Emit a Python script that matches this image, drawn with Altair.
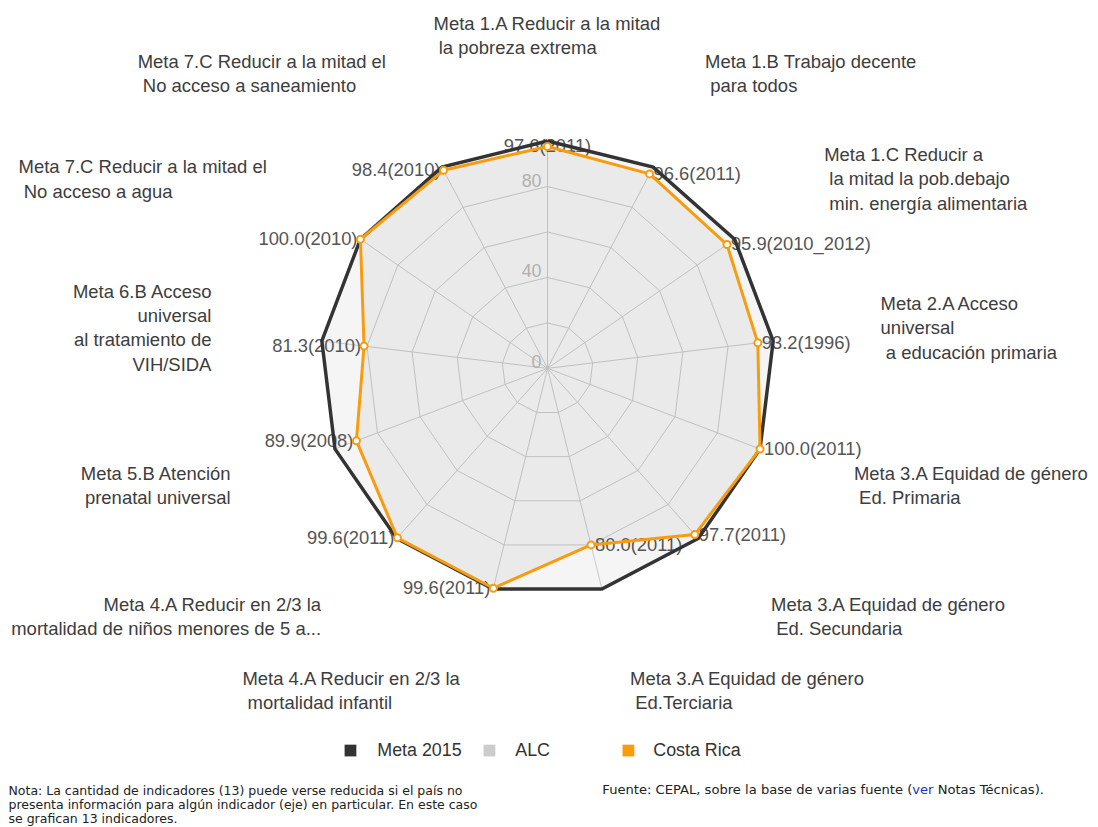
import math
import altair as alt
import pandas as pd

# ---------------- data ----------------
categories = [
    ["Meta 1.A Reducir a la mitad", " la pobreza extrema"],
    ["Meta 1.B Trabajo decente", " para todos"],
    ["Meta 1.C Reducir a", " la mitad la pob.debajo", " min. energía alimentaria"],
    ["Meta 2.A Acceso", "universal", " a educación primaria"],
    ["Meta 3.A Equidad de género", " Ed. Primaria"],
    ["Meta 3.A Equidad de género", " Ed. Secundaria"],
    ["Meta 3.A Equidad de género", " Ed.Terciaria"],
    ["Meta 4.A Reducir en 2/3 la", " mortalidad infantil"],
    ["Meta 4.A Reducir en 2/3 la", "mortalidad de niños menores de 5 a..."],
    ["Meta 5.B Atención", "prenatal universal"],
    ["Meta 6.B Acceso", "universal", "al tratamiento de", "VIH/SIDA"],
    ["Meta 7.C Reducir a la mitad el", " No acceso a agua"],
    ["Meta 7.C Reducir a la mitad el", " No acceso a saneamiento"],
]
meta_values = [100, 100, 100, 100, 100, 100, 100, 100, 100, 100, 100, 100, 100]
cr_values = [97.6, 96.6, 95.9, 93.2, 100.0, 97.7, 80.0, 99.6, 99.6, 89.9, 81.3, 100.0, 98.4]
cr_years = ["2011", "2011", "2010_2012", "1996", "2011", "2011", "2011",
            "2011", "2011", "2008", "2010", "2010", "2010"]
grid_levels = [20, 40, 60, 80, 100]
grid_tick_labels = [0, 40, 80]
legend_names = ["Meta 2015", "ALC", "Costa Rica"]
nota_lines = [
    "Nota: La cantidad de indicadores (13) puede verse reducida si el país no",
    "presenta información para algún indicador (eje) en particular. En este caso",
    "se grafican 13 indicadores.",
]
fuente_parts = ["Fuente: CEPAL, sobre la base de varias fuente (", "ver", " Notas Técnicas)."]

# ---------------- styles / layout ----------------
META_COLOR = "#333333"
ALC_COLOR = "#cccccc"
CR_COLOR = "#f89c0e"
legend_colors = [META_COLOR, ALC_COLOR, CR_COLOR]
FONT = "Liberation Sans"
NOTE_FONT = "DejaVu Sans"
NOTE_SIZE = 12.6
FUENTE_SIZE = 13.2
LABEL_SIZE = 18.6
N = len(categories)
K = 2.29            # px per value unit
CX, CY = 551.5, 368.0   # page coordinates of centre
W, H = 1090, 819
RIGHT_LIMIT = 1097
modes = ["middle", "start", "start", "start", "start", "start", "start",
         "endblock", "end", "end", "end", "endblock", "endblock"]

AW = {' ': 278, 'a': 556, 'b': 556, 'c': 500, 'd': 556, 'e': 556, 'f': 278, 'g': 556,
      'h': 556, 'i': 222, 'j': 222, 'k': 500, 'l': 222, 'm': 833, 'n': 556, 'o': 556,
      'p': 556, 'q': 556, 'r': 333, 's': 500, 't': 278, 'u': 556, 'v': 500, 'w': 722,
      'x': 500, 'y': 500, 'z': 500, 'A': 667, 'B': 667, 'C': 722, 'D': 722, 'E': 667,
      'F': 611, 'G': 778, 'H': 722, 'I': 278, 'M': 833, 'N': 722, 'P': 667, 'R': 722,
      'S': 667, 'T': 611, 'V': 667, '.': 278, ',': 278, '/': 278, '(': 333, ')': 333,
      ':': 278, '_': 556, 'é': 556, 'í': 278, 'ñ': 556, 'ó': 556, 'á': 556}
DW = {' ': 318, 'v': 592, 'e': 615, 'r': 411}


def tw(s, size):
    return sum(AW.get(ch, 556) for ch in s) * size / 1000.0


def ux(p):
    return (p - CX) / K


def uy(p):
    return (CY - p) / K


def ang(i):
    return 2 * math.pi * i / N


xscale = alt.Scale(domain=[ux(8), ux(8 + W)], nice=False, zero=False)
yscale = alt.Scale(domain=[uy(8 + H), uy(8)], nice=False, zero=False)
X = alt.X("x:Q", scale=xscale, axis=None)
Y = alt.Y("y:Q", scale=yscale, axis=None)


def poly(values):
    rows = []
    for j in range(N + 1):
        i = j % N
        rows.append({"x": values[i] * math.sin(ang(i)), "y": values[i] * math.cos(ang(i)), "o": j})
    return pd.DataFrame(rows)


meta_df = poly(meta_values)
cr_df = poly(cr_values)

ring_rows = []
for L in grid_levels:
    for j in range(N + 1):
        i = j % N
        ring_rows.append({"x": L * math.sin(ang(i)), "y": L * math.cos(ang(i)), "o": j, "lvl": L})
ring_df = pd.DataFrame(ring_rows)
spoke_df = pd.DataFrame([{"x": 0.0, "y": 0.0,
                          "x2": 100 * math.sin(ang(i)), "y2": 100 * math.cos(ang(i))}
                         for i in range(N)])
tick_df = pd.DataFrame([{"x": -6 / K, "y": L + 5 / K, "t": str(L)} for L in grid_tick_labels])

rings = alt.Chart(ring_df).mark_line(color="#d2d2d2", strokeWidth=1).encode(
    x=X, y=Y, detail="lvl:N", order="o:Q")
spokes = alt.Chart(spoke_df).mark_rule(color="#d2d2d2", strokeWidth=1).encode(
    x=X, y=Y, x2="x2:Q", y2="y2:Q")
meta_fill = alt.Chart(meta_df).mark_line(fill="#000000", fillOpacity=0.04, strokeOpacity=0).encode(
    x=X, y=Y, order="o:Q")
cr_fill = alt.Chart(cr_df).mark_line(fill="#000000", fillOpacity=0.045, strokeOpacity=0).encode(
    x=X, y=Y, order="o:Q")
ticks = alt.Chart(tick_df).mark_text(align="right", baseline="middle", font=FONT,
                                     fontSize=18, color="#b0b0b0").encode(x=X, y=Y, text="t:N")

lab_left, lab_right = [], []
R_LAB = 335
for i, lines in enumerate(categories):
    a = ang(i)
    ax = CX + R_LAB * math.sin(a)
    ay = CY - R_LAB * math.cos(a)
    n = len(lines)
    stripped = [ln.lstrip(" ") for ln in lines]
    indents = [tw(" " * (len(ln) - len(ln.lstrip(" "))), LABEL_SIZE) for ln in lines]
    widths = [tw(ln, LABEL_SIZE) for ln in lines]
    bw = max(widths)
    m = modes[i]
    if m == "start":
        left = min(ax + 3, RIGHT_LIMIT - bw)
    elif m == "middle":
        left = ax - bw / 2
    elif m == "endblock":
        left = ax - 7 - bw
    else:
        left = None
    for j in range(n):
        py = ay + (j - (n - 1) / 2) * 24.5
        if left is not None:
            lab_left.append({"x": ux(left + indents[j]), "y": uy(py), "t": stripped[j]})
        else:
            lab_right.append({"x": ux(ax - 6), "y": uy(py), "t": stripped[j]})

cat_l = alt.Chart(pd.DataFrame(lab_left)).mark_text(
    align="left", baseline="middle", font=FONT, fontSize=LABEL_SIZE, color="#3d3d3d").encode(
    x=X, y=Y, text="t:N")
cat_r = alt.Chart(pd.DataFrame(lab_right)).mark_text(
    align="right", baseline="middle", font=FONT, fontSize=LABEL_SIZE, color="#3d3d3d").encode(
    x=X, y=Y, text="t:N")

dl = pd.DataFrame([{"x": cr_values[i] * math.sin(ang(i)), "y": cr_values[i] * math.cos(ang(i)),
                    "t": f"{cr_values[i]:.1f}({cr_years[i]})", "i": i} for i in range(N)])
dl_c = alt.Chart(dl[dl.i == 0]).mark_text(
    align="center", baseline="middle", font=FONT, fontSize=18.5, color="#555555").encode(
    x=X, y=Y, text="t:N")
dl_r = alt.Chart(dl[(dl.i >= 1) & (dl.i <= 6)]).mark_text(
    align="left", baseline="middle", dx=4, font=FONT, fontSize=18.5, color="#555555").encode(
    x=X, y=Y, text="t:N")
dl_l = alt.Chart(dl[dl.i >= 7]).mark_text(
    align="right", baseline="middle", dx=-3, font=FONT, fontSize=18.5, color="#555555").encode(
    x=X, y=Y, text="t:N")

meta_line = alt.Chart(meta_df).mark_line(color=META_COLOR, strokeWidth=3.5, strokeJoin="miter").encode(
    x=X, y=Y, order="o:Q")
cr_line = alt.Chart(cr_df).mark_line(color=CR_COLOR, strokeWidth=3, strokeJoin="round").encode(
    x=X, y=Y, order="o:Q")
cr_pts = alt.Chart(cr_df[cr_df.o < N]).mark_point(
    filled=True, fill="white", stroke=CR_COLOR, strokeWidth=2, size=50, opacity=1).encode(x=X, y=Y)

leg_df = pd.DataFrame([{"x": ux(353 + 140 * k), "y": uy(753), "name": legend_names[k],
                        "tx": ux(380 + 139 * k)} for k in range(3)])
leg_sq = alt.Chart(leg_df).mark_point(shape="square", filled=True, size=140, opacity=1,
                                      strokeWidth=1).encode(
    x=X, y=Y,
    color=alt.Color("name:N", scale=alt.Scale(domain=legend_names, range=legend_colors), legend=None))
leg_tx = alt.Chart(leg_df).mark_text(align="left", baseline="middle", font=FONT, fontSize=18,
                                     color="#333333").encode(
    x=alt.X("tx:Q", scale=xscale, axis=None), y=Y, text="name:N")

nota_df = pd.DataFrame([{"x": ux(8.5), "y": uy(794 + 14 * j), "t": t} for j, t in enumerate(nota_lines)])
nota = alt.Chart(nota_df).mark_text(align="left", baseline="middle", font=NOTE_FONT, fontSize=NOTE_SIZE,
                                    color="#222222").encode(x=X, y=Y, text="t:N")
JX = 919
ver_w = sum(DW.get(ch, 600) for ch in fuente_parts[1] + " ") * FUENTE_SIZE / 1000.0
f1 = alt.Chart(pd.DataFrame([{"x": ux(JX), "y": uy(793), "t": fuente_parts[0]}])).mark_text(
    align="right", baseline="middle", font=NOTE_FONT, fontSize=FUENTE_SIZE, color="#222222").encode(
    x=X, y=Y, text="t:N")
f2 = alt.Chart(pd.DataFrame([{"x": ux(JX), "y": uy(793), "t": fuente_parts[1]}])).mark_text(
    align="left", baseline="middle", font=NOTE_FONT, fontSize=FUENTE_SIZE, color="#2233cc").encode(
    x=X, y=Y, text="t:N")
f3 = alt.Chart(pd.DataFrame([{"x": ux(JX + ver_w), "y": uy(793),
                              "t": fuente_parts[2].lstrip()}])).mark_text(
    align="left", baseline="middle", font=NOTE_FONT, fontSize=FUENTE_SIZE, color="#222222").encode(
    x=X, y=Y, text="t:N")

chart = alt.layer(
    rings, spokes, meta_fill, cr_fill, ticks, cat_l, cat_r, dl_c, dl_r, dl_l,
    meta_line, cr_line, cr_pts, leg_sq, leg_tx, nota, f1, f2, f3
).properties(
    width=W, height=H, autosize=alt.AutoSizeParams(type="none"), padding=0, background="white"
).configure_view(stroke="transparent", strokeWidth=0)

chart.save("out.html", embed_options={"renderer": "svg", "actions": False})
